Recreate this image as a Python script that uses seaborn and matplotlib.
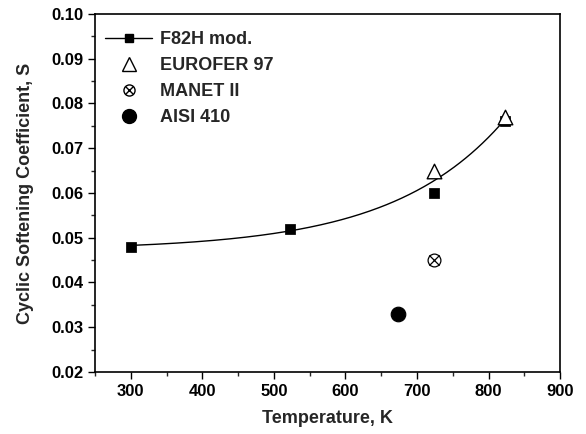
import matplotlib
matplotlib.use("Agg")
import matplotlib.pyplot as plt
from matplotlib.lines import Line2D
from matplotlib.legend_handler import HandlerTuple
from matplotlib.ticker import MultipleLocator, FormatStrFormatter
import numpy as np
import seaborn as sns

# data
f82h_T = [300, 523, 723, 823]
f82h_S = [0.048, 0.052, 0.060, 0.076]
eurofer_T = [723, 823]
eurofer_S = [0.065, 0.077]
manet_T = [723]
manet_S = [0.045]
aisi_T = [673]
aisi_S = [0.033]

sns.set_theme(style="ticks")
plt.rcParams["font.family"] = ["Liberation Sans", "DejaVu Sans"]
plt.rcParams["font.weight"] = "bold"

# exponential growth fit S = y0 + A*exp(T/t) over F82H + EUROFER points
x = np.array(f82h_T + eurofer_T, float)
y = np.array(f82h_S + eurofer_S, float)
best = None
for t in np.linspace(50, 600, 2000):
    M = np.column_stack([np.ones_like(x), np.exp(x / t)])
    coef, *_ = np.linalg.lstsq(M, y, rcond=None)
    err = np.sum((M @ coef - y) ** 2)
    if best is None or err < best[0]:
        best = (err, t, coef)
_, t_fit, (y0, A) = best
fit_T = np.linspace(300, 823, 200)
fit_S = y0 + A * np.exp(fit_T / t_fit)

fig = plt.figure(figsize=(5.86, 4.34), dpi=100)
ax = fig.add_axes([0.162, 0.143, 0.794, 0.825])

sns.lineplot(x=fit_T, y=fit_S, ax=ax, color="black", lw=1.0)
sns.scatterplot(x=f82h_T, y=f82h_S, ax=ax, marker="s", s=45, color="black", edgecolor="black", zorder=3)
sns.scatterplot(x=eurofer_T, y=eurofer_S, ax=ax, marker="^", s=110, facecolor="white", edgecolor="black", linewidth=1.0, zorder=3)
sns.scatterplot(x=manet_T, y=manet_S, ax=ax, marker="o", s=85, facecolor="white", edgecolor="black", linewidth=0.9, zorder=3)
sns.scatterplot(x=manet_T, y=manet_S, ax=ax, marker="x", s=55, color="black", linewidth=0.9, zorder=4)
sns.scatterplot(x=aisi_T, y=aisi_S, ax=ax, marker="o", s=110, color="black", edgecolor="black", zorder=3)

ax.set_xlim(250, 900)
ax.set_ylim(0.02, 0.10)
ax.set_xticks([300, 400, 500, 600, 700, 800, 900])
ax.xaxis.set_minor_locator(MultipleLocator(50))
ax.yaxis.set_major_locator(MultipleLocator(0.01))
ax.yaxis.set_minor_locator(MultipleLocator(0.005))
ax.yaxis.set_major_formatter(FormatStrFormatter("%.2f"))
ax.tick_params(which="major", direction="out", length=5, width=1.0, labelsize=12, colors="black")
ax.tick_params(which="minor", direction="out", length=3, width=1.0)
for sp in ax.spines.values():
    sp.set_linewidth(1.2)
    sp.set_color("black")
for lab in ax.get_xticklabels() + ax.get_yticklabels():
    lab.set_fontweight("bold")

ax.set_xlabel("Temperature, K", fontsize=13, fontweight="bold", labelpad=8)
ax.set_ylabel("Cyclic Softening Coefficient, S", fontsize=13, fontweight="bold", labelpad=12)

h_f82h = Line2D([], [], color="black", lw=1.0, marker="s", markersize=6)
h_eur = Line2D([], [], ls="none", marker="^", markersize=10, mfc="white", mec="black")
h_man_o = Line2D([], [], ls="none", marker="o", markersize=8, mfc="white", mec="black")
h_man_x = Line2D([], [], ls="none", marker="x", markersize=6, mec="black")
h_aisi = Line2D([], [], ls="none", marker="o", markersize=10, color="black")
ax.legend([h_f82h, h_eur, (h_man_o, h_man_x), h_aisi],
          ["F82H mod.", "EUROFER 97", "MANET II", "AISI 410"],
          handler_map={tuple: HandlerTuple(ndivide=1, pad=0)},
          loc="upper left", bbox_to_anchor=(0.007, 0.972), borderaxespad=0,
          frameon=False, prop={"size": 13, "weight": "bold"},
          handlelength=2.6, handletextpad=0.45, labelspacing=0.5)

fig.savefig("out.png", dpi=100)
